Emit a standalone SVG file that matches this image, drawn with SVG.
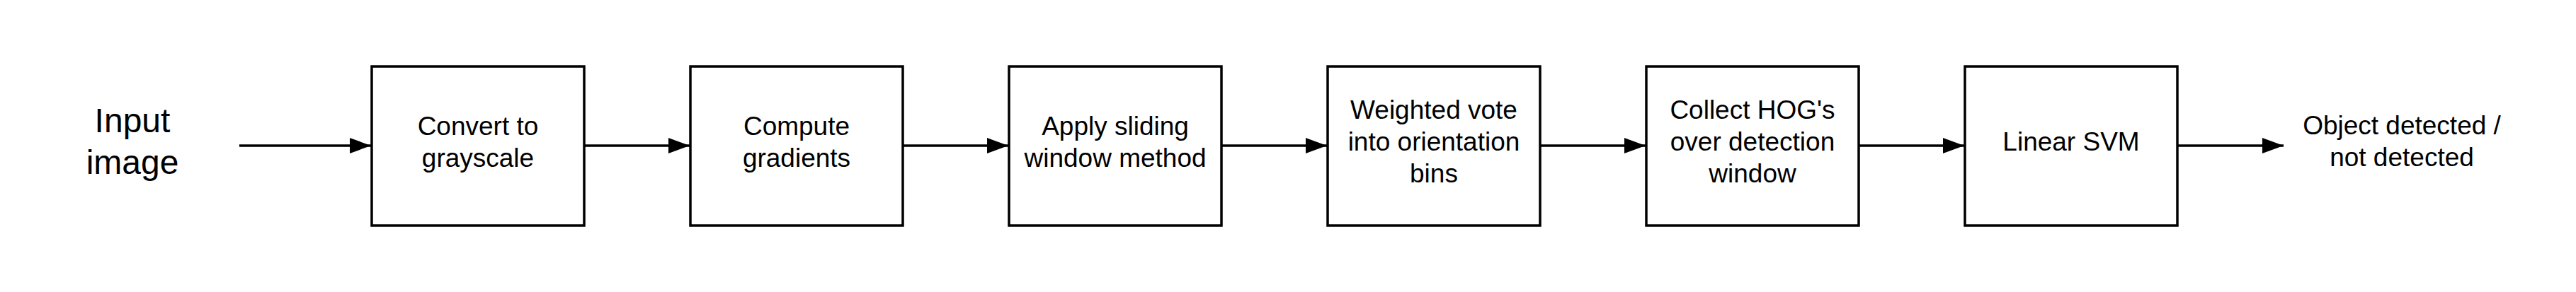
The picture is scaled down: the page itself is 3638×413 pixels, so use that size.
<svg xmlns="http://www.w3.org/2000/svg" width="3638" height="413" viewBox="0 0 3638 413">
<style>
.box{fill:#fff;stroke:#000;stroke-width:3.5}
.t{font-family:"Liberation Sans",Arial,sans-serif;font-size:37px;fill:#000;text-anchor:middle}
.big{font-size:48px}
.c{stroke:#000;stroke-width:3.5;fill:none}
</style>
<defs>
<marker id="ah" markerUnits="userSpaceOnUse" markerWidth="30" markerHeight="22" refX="30" refY="11" orient="auto" viewBox="0 0 30 22">
<path d="M0,0 L30,11 L0,22 Z" fill="#000"/>
</marker>
</defs>
<rect width="3638" height="413" fill="#fff"/>
<g id="connectors">
<line class="c" x1="338" y1="206" x2="524" y2="206" marker-end="url(#ah)"/>
<line class="c" x1="825" y1="206" x2="974" y2="206" marker-end="url(#ah)"/>
<line class="c" x1="1275" y1="206" x2="1424" y2="206" marker-end="url(#ah)"/>
<line class="c" x1="1725" y1="206" x2="1874" y2="206" marker-end="url(#ah)"/>
<line class="c" x1="2175" y1="206" x2="2324" y2="206" marker-end="url(#ah)"/>
<line class="c" x1="2625" y1="206" x2="2774" y2="206" marker-end="url(#ah)"/>
<line class="c" x1="3075" y1="206" x2="3225" y2="206" marker-end="url(#ah)"/>
</g>
<g id="input">
<text class="t big" x="187" y="187">Input</text>
<text class="t big" x="187" y="246">image</text>
</g>
<g id="grayscale">
<rect class="box" x="525" y="94" width="300" height="225"/>
<text class="t" x="675" y="191">Convert to</text>
<text class="t" x="675" y="236">grayscale</text>
</g>
<g id="gradients">
<rect class="box" x="975" y="94" width="300" height="225"/>
<text class="t" x="1125" y="191">Compute</text>
<text class="t" x="1125" y="236">gradients</text>
</g>
<g id="sliding">
<rect class="box" x="1425" y="94" width="300" height="225"/>
<text class="t" x="1575" y="191">Apply sliding</text>
<text class="t" x="1575" y="236">window method</text>
</g>
<g id="vote">
<rect class="box" x="1875" y="94" width="300" height="225"/>
<text class="t" x="2025" y="168">Weighted vote</text>
<text class="t" x="2025" y="213">into orientation</text>
<text class="t" x="2025" y="258">bins</text>
</g>
<g id="collect">
<rect class="box" x="2325" y="94" width="300" height="225"/>
<text class="t" x="2475" y="168">Collect HOG's</text>
<text class="t" x="2475" y="213">over detection</text>
<text class="t" x="2475" y="258">window</text>
</g>
<g id="svm">
<rect class="box" x="2775" y="94" width="300" height="225"/>
<text class="t" x="2925" y="213">Linear SVM</text>
</g>
<g id="output">
<text class="t" x="3392" y="190">Object detected /</text>
<text class="t" x="3392" y="235">not detected</text>
</g>
</svg>
